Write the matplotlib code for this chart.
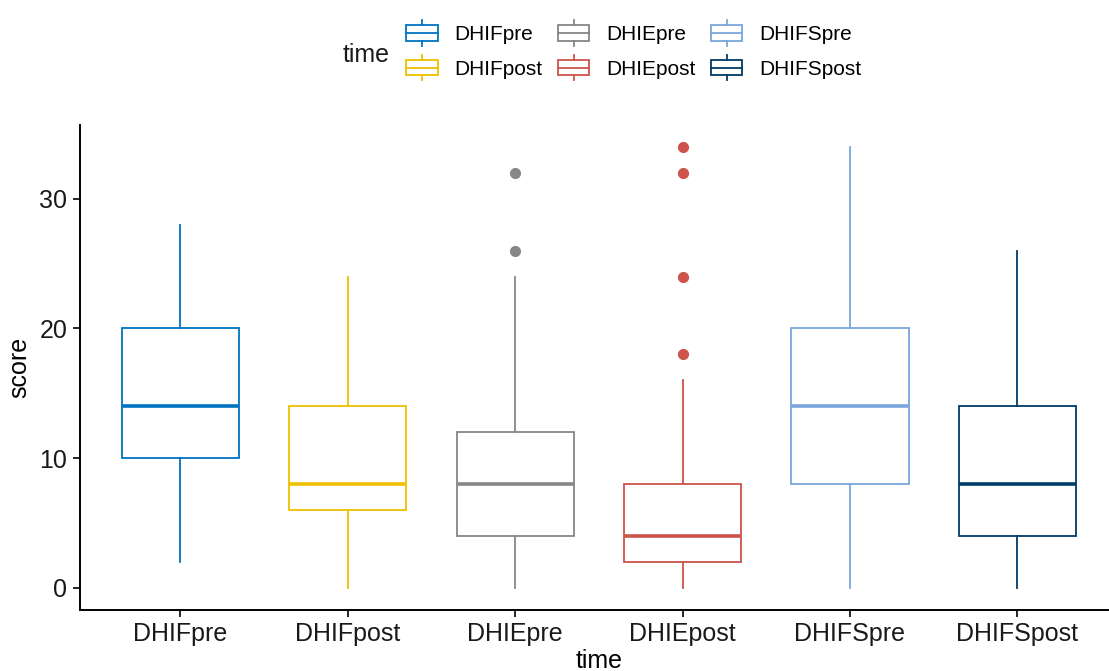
import matplotlib
matplotlib.use("Agg")
import matplotlib.pyplot as plt
from matplotlib.patches import Patch, Rectangle
from matplotlib.lines import Line2D
from matplotlib.legend_handler import HandlerBase

plt.rcParams['font.family'] = ['Liberation Sans', 'DejaVu Sans']

groups = ["DHIFpre", "DHIFpost", "DHIEpre", "DHIEpost", "DHIFSpre", "DHIFSpost"]
colors = ["#0073C2", "#EFC000", "#868686", "#CD534C", "#7AA6DC", "#003C67"]

# five-number summaries per group
q1 = [10, 6, 4, 2, 8, 4]
med = [14, 8, 8, 4, 14, 8]
q3 = [20, 14, 12, 8, 20, 14]
whis_lo = [2, 0, 0, 0, 0, 0]
whis_hi = [28, 24, 24, 16, 34, 26]
outliers = [[], [], [26, 32], [18, 24, 32, 34], [], []]


class BoxKeyHandler(HandlerBase):
    """Small boxplot glyph for legend keys."""
    def create_artists(self, legend, orig_handle, xdescent, ydescent,
                       width, height, fontsize, trans):
        c = orig_handle.get_edgecolor()
        x0, y0 = -xdescent, -ydescent
        xm = x0 + width / 2
        lo, hi = y0 + 0.2 * height, y0 + 0.8 * height
        box = Rectangle((x0, lo), width, hi - lo,
                        facecolor="white", edgecolor=c, lw=1.3, transform=trans)
        mid = Line2D([x0, x0 + width], [y0 + 0.5 * height] * 2, color=c, lw=1.3, transform=trans)
        top = Line2D([xm, xm], [hi, y0 + height], color=c, lw=1.3, transform=trans)
        bot = Line2D([xm, xm], [y0, lo], color=c, lw=1.3, transform=trans)
        return [box, mid, top, bot]


fig = plt.figure(figsize=(11.09, 6.71), dpi=100)
ax = fig.add_axes([0.072, 0.091, 0.936, 0.723])

stats = []
for i, g in enumerate(groups):
    stats.append(dict(label=g, q1=q1[i], med=med[i], q3=q3[i],
                      whislo=whis_lo[i], whishi=whis_hi[i], fliers=outliers[i]))

positions = range(1, len(groups) + 1)
for i, (s, c) in enumerate(zip(stats, colors)):
    ax.bxp([s], positions=[i + 1], widths=0.7, showcaps=False, patch_artist=True,
           boxprops=dict(facecolor="white", edgecolor=c, lw=1.3),
           whiskerprops=dict(color=c, lw=1.3),
           medianprops=dict(color=c, lw=2.6, solid_capstyle="butt"),
           flierprops=dict(marker="o", markerfacecolor=c, markeredgecolor=c, markersize=7))

ax.set_xlim(0.4, 6.6)
ax.set_ylim(-1.7, 35.7)
ax.set_yticks([0, 10, 20, 30])
ax.set_xticks(list(positions))
ax.set_xticklabels(groups)
ax.tick_params(axis="both", labelsize=18, length=5, width=1.2, colors="black",
               labelcolor="#1a1a1a")
ax.tick_params(axis="x", pad=4)
ax.tick_params(axis="y", pad=4)
for side in ("top", "right"):
    ax.spines[side].set_visible(False)
for side in ("left", "bottom"):
    ax.spines[side].set_linewidth(1.4)
ax.set_xlabel("time", fontsize=18, labelpad=2)
ax.set_ylabel("score", fontsize=18, labelpad=6)

handles = [Patch(edgecolor=c, facecolor="white", label=g) for g, c in zip(groups, colors)]
fig.legend(handles=handles, loc="center left", bbox_to_anchor=(0.357, 0.925), ncol=3,
           frameon=False, fontsize=15, borderpad=0, handlelength=1.5, handleheight=1.5,
           handletextpad=0.8, columnspacing=0.75, labelspacing=0.45,
           handler_map={Patch: BoxKeyHandler()})
fig.text(0.351, 0.918, "time", fontsize=18, ha="right", va="center", color="#1a1a1a")

fig.savefig("out.png", dpi=100)
